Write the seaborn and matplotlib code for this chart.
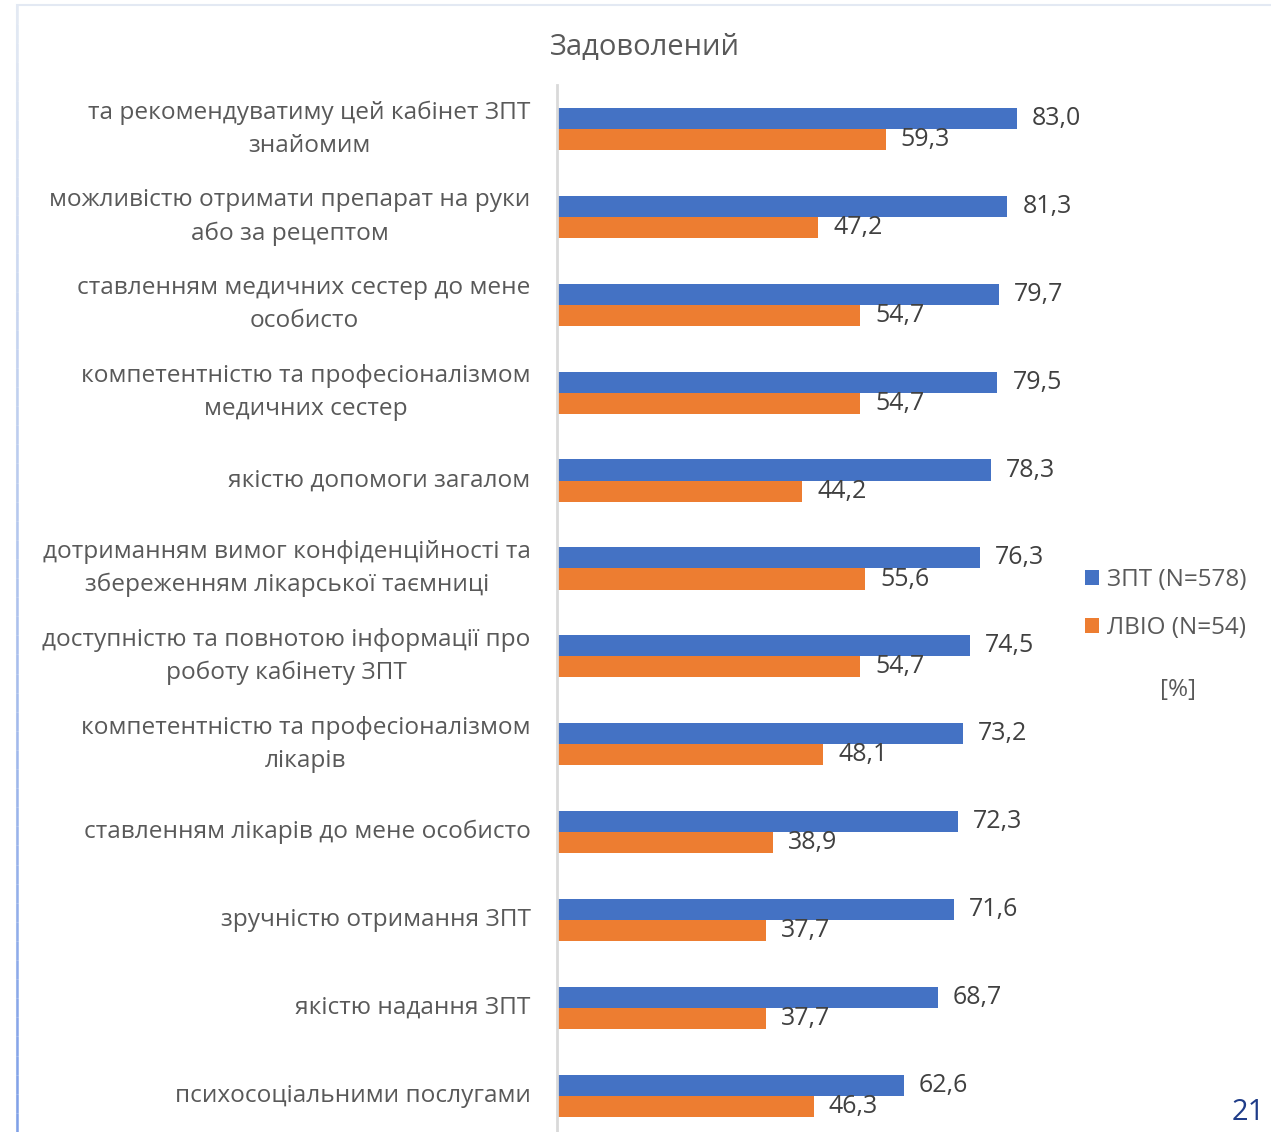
import matplotlib

matplotlib.use('Agg')
import matplotlib.pyplot as plt
import numpy as np
import pandas as pd
import seaborn as sns
from matplotlib.patches import Rectangle
from matplotlib.collections import LineCollection
from matplotlib.colors import LinearSegmentedColormap

# --- data ---
categories = [
    "та рекомендуватиму цей кабінет ЗПТ\nзнайомим",
    "можливістю отримати препарат на руки\nабо за рецептом",
    "ставленням медичних сестер до мене\nособисто",
    "компетентністю та професіоналізмом\nмедичних сестер",
    "якістю допомоги загалом",
    "дотриманням вимог конфіденційності та\nзбереженням лікарської таємниці",
    "доступністю та повнотою інформації про\nроботу кабінету ЗПТ",
    "компетентністю та професіоналізмом\nлікарів",
    "ставленням лікарів до мене особисто",
    "зручністю отримання ЗПТ",
    "якістю надання ЗПТ",
    "психосоціальними послугами",
]
zpt_values = [83.0, 81.3, 79.7, 79.5, 78.3, 76.3, 74.5, 73.2, 72.3, 71.6, 68.7, 62.6]
lvio_values = [59.3, 47.2, 54.7, 54.7, 44.2, 55.6, 54.7, 48.1, 38.9, 37.7, 37.7, 46.3]
series_names = ["ЗПТ (N=578)", "ЛВІО (N=54)"]

df = pd.DataFrame({
    "category": categories * 2,
    "value": zpt_values + lvio_values,
    "group": [series_names[0]] * len(categories) + [series_names[1]] * len(categories),
})

sns.set_style("white")
plt.rcParams['font.family'] = ['Open Sans', 'DejaVu Sans']
plt.rcParams['text.color'] = '#595959'

W, H = 1271, 1132
fig = plt.figure(figsize=(W / 100, H / 100), dpi=100)
ax = fig.add_axes([557 / W, 0, 90 * 5.54 / W, 1 - 85 / H])

sns.barplot(data=df, y="category", x="value", hue="group", orient="h",
            palette=["#4472C4", "#ED7D31"], width=0.48, ax=ax,
            saturation=1, linewidth=0)

ax.set_xlim(0, 90)
ax.set_ylim((H - 129) / 87.9, -0.5)
ax.set_xlabel('')
ax.set_ylabel('')
ax.set_xticks([])

for c in ax.containers:
    ax.bar_label(c, labels=[f"{b.get_width():.1f}".replace('.', ',') for b in c],
                 padding=11, fontsize=18, color='#404040')

ax.tick_params(axis='y', length=0, pad=19, labelsize=17.6, labelcolor='#595959')
for t in ax.get_yticklabels():
    t.set_multialignment('center')
    t.set_linespacing(1.5)
    t.set_verticalalignment('center')

for s in ['top', 'right', 'bottom']:
    ax.spines[s].set_visible(False)
ax.spines['left'].set_color('#D9D9D9')
ax.spines['left'].set_linewidth(2)

handles, labels = ax.get_legend_handles_labels()
ax.legend(handles, labels, loc='center left', bbox_to_anchor=(1063 / W, 1 - 604 / H),
          bbox_transform=fig.transFigure, frameon=False, fontsize=17.5,
          handlelength=0.6, handleheight=0.6, handletextpad=0.3, labelspacing=1.0,
          labelcolor='#595959')

fig.text(645 / W, 1 - 47 / H, "Задоволений", ha='center', va='center', fontsize=21, color='#595959')
fig.text(1178 / W, 1 - 690 / H, "[%]", ha='center', va='center', fontsize=17.5, color='#595959')
fig.text(1248 / W, 1 - 1112 / H, "21", ha='center', va='center', fontsize=21, color='#1F3C88')

# slide frame: light outline, left edge fading into blue towards the bottom
fig.patches.append(Rectangle((17 / W, -0.01), 1.0, 1 - 5 / H + 0.01, transform=fig.transFigure,
                             fill=False, edgecolor='#E3E9F3', linewidth=1.5))
edge_cmap = LinearSegmentedColormap.from_list('edge', ['#7FA0E8', '#E3E9F3'])
ys = np.linspace(0, 1 - 5 / H, 60)
segs = [[(17 / W, ys[i]), (17 / W, ys[i + 1])] for i in range(len(ys) - 1)]
fig.add_artist(LineCollection(segs, colors=edge_cmap(np.linspace(0, 1, len(segs))),
                              linewidths=1.8, transform=fig.transFigure))

fig.savefig('out.png', dpi=100)
